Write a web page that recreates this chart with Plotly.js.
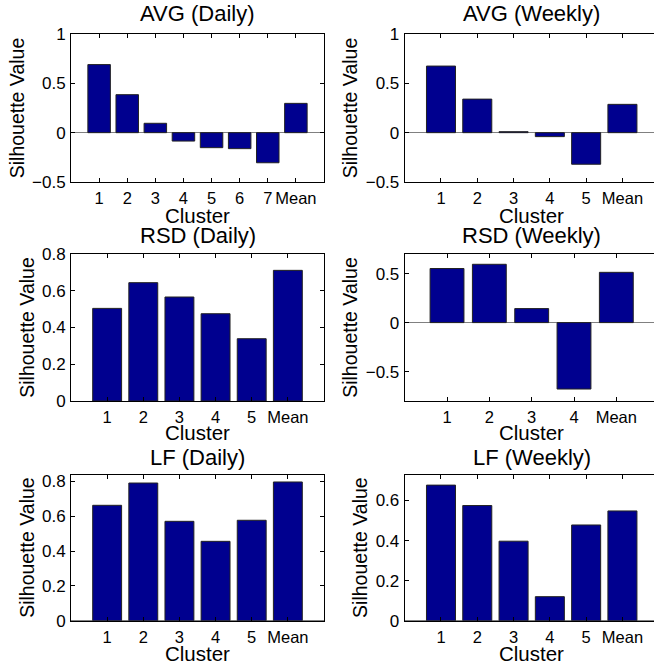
<!DOCTYPE html>
<html>
<head>
<meta charset="utf-8">
<script src="https://cdn.plot.ly/plotly-3.0.1.min.js"></script>
<style>html,body{margin:0;padding:0;background:#fff;}#chart{width:654px;height:666px;}</style>
</head>
<body>
<div id="chart"></div>
<script>
// ---- Data ----
const avgDailyCats  = ["1","2","3","4","5","6","7","Mean"];
const avgDailyVals  = [0.69, 0.385, 0.095, -0.085, -0.152, -0.162, -0.305, 0.297];
const avgWeeklyCats = ["1","2","3","4","5","Mean"];
const avgWeeklyVals = [0.675, 0.34, 0.01, -0.04, -0.32, 0.287];
const rsdDailyCats  = ["1","2","3","4","5","Mean"];
const rsdDailyVals  = [0.504, 0.644, 0.566, 0.475, 0.339, 0.711];
const rsdWeeklyCats = ["1","2","3","4","Mean"];
const rsdWeeklyVals = [0.552, 0.595, 0.143, -0.678, 0.513];
const lfDailyCats   = ["1","2","3","4","5","Mean"];
const lfDailyVals   = [0.663, 0.791, 0.571, 0.456, 0.577, 0.797];
const lfWeeklyCats  = ["1","2","3","4","5","Mean"];
const lfWeeklyVals  = [0.677, 0.575, 0.397, 0.12, 0.478, 0.548];
const titles = ["AVG (Daily)","AVG (Weekly)","RSD (Daily)","RSD (Weekly)","LF (Daily)","LF (Weekly)"];
const xTitle = "Cluster";
const yTitle = "Silhouette Value";

// ---- Layout config ----
const W = 654, H = 666;
const panels = [
  {cats: avgDailyCats,  vals: avgDailyVals,  xr:[0,9],    yr:[-0.5,1],   dt:0.5, col:0, row:0},
  {cats: avgWeeklyCats, vals: avgWeeklyVals, xr:[0,6.87], yr:[-0.5,1],   dt:0.5, col:1, row:0},
  {cats: rsdDailyCats,  vals: rsdDailyVals,  xr:[0,7],    yr:[0,0.8],    dt:0.2, col:0, row:1},
  {cats: rsdWeeklyCats, vals: rsdWeeklyVals, xr:[0,5.89], yr:[-0.8,0.7], dt:0.5, col:1, row:1},
  {cats: lfDailyCats,   vals: lfDailyVals,   xr:[0,7],    yr:[0,0.84],   dt:0.2, col:0, row:2},
  {cats: lfWeeklyCats,  vals: lfWeeklyVals,  xr:[0,6.87], yr:[0,0.73],   dt:0.2, col:1, row:2}
];
const colPx = [[71,324],[404.7,654]];
const rowPx = [[34,182],[254,401],[474.5,620.7]];
const titleY = [14, 235.5, 457.5];
const xTitleOffset = [33, 31.5, 33];

const FAM = "Liberation Sans, Arial, Helvetica, sans-serif";
const font = {family: FAM, color: "#000"};
const data = [];
const layout = {
  width: W, height: H,
  margin: {l:0, r:0, t:0, b:0},
  paper_bgcolor: "#fff", plot_bgcolor: "#fff",
  showlegend: false,
  font: font,
  annotations: []
};

panels.forEach((p, i) => {
  const k = i + 1;
  const xa = "x" + (k === 1 ? "" : k), ya = "y" + (k === 1 ? "" : k);
  const xs = p.cats.map((c, j) => j + 1);
  data.push({
    type: "bar", x: xs, y: p.vals, width: 0.8,
    xaxis: xa, yaxis: ya,
    marker: {color: "#00008F", line: {color: "#222222", width: 1}},
    hoverinfo: "skip"
  });
  const cp = colPx[p.col], rp = rowPx[p.row];
  const cx = (cp[0] + (p.col === 0 ? cp[1] : cp[0] + 254)) / 2 / W;
  layout["xaxis" + (k === 1 ? "" : k)] = {
    domain: [cp[0]/W, cp[1]/W],
    anchor: ya,
    range: p.xr,
    tickvals: xs, ticktext: p.cats,
    tickangle: 0,
    ticks: "inside", ticklen: 4, tickcolor: "#000", tickwidth: 1,
    showline: true, linecolor: "#000", linewidth: 1, mirror: "ticks",
    showgrid: false, zeroline: false,
    tickfont: {size: 16.5, family: FAM, color: "#000"},
    ticklabelstandoff: 1,
    fixedrange: true
  };
  layout["yaxis" + (k === 1 ? "" : k)] = {
    domain: [1 - rp[1]/H, 1 - rp[0]/H],
    anchor: xa,
    range: p.yr,
    dtick: p.dt, tick0: 0,
    ticks: "inside", ticklen: 4, tickcolor: "#000", tickwidth: 1,
    showline: true, linecolor: "#000", linewidth: 1, mirror: p.col === 0 ? "ticks" : false,
    showgrid: false,
    zeroline: true, zerolinecolor: "#808080", zerolinewidth: 1,
    tickfont: {size: 17, family: FAM, color: "#000"},
    ticklabelstandoff: 1,
    title: {text: yTitle, font: {size: 19.5, family: FAM, color: "#000"}, standoff: 2},
    fixedrange: true
  };
  layout.annotations.push({
    text: titles[i], xref: "paper", yref: "paper",
    x: cx, y: 1 - titleY[p.row]/H, xanchor: "center", yanchor: "middle",
    showarrow: false, font: {size: 22, family: FAM, color: "#000"}
  });
  layout.annotations.push({
    text: xTitle, xref: "paper", yref: "paper",
    x: cx, y: 1 - (rp[1] + xTitleOffset[p.row])/H, xanchor: "center", yanchor: "middle",
    showarrow: false, font: {size: 20.5, family: FAM, color: "#000"}
  });
});

Plotly.newPlot("chart", data, layout, {staticPlot: true, displayModeBar: false});
</script>
</body>
</html>
